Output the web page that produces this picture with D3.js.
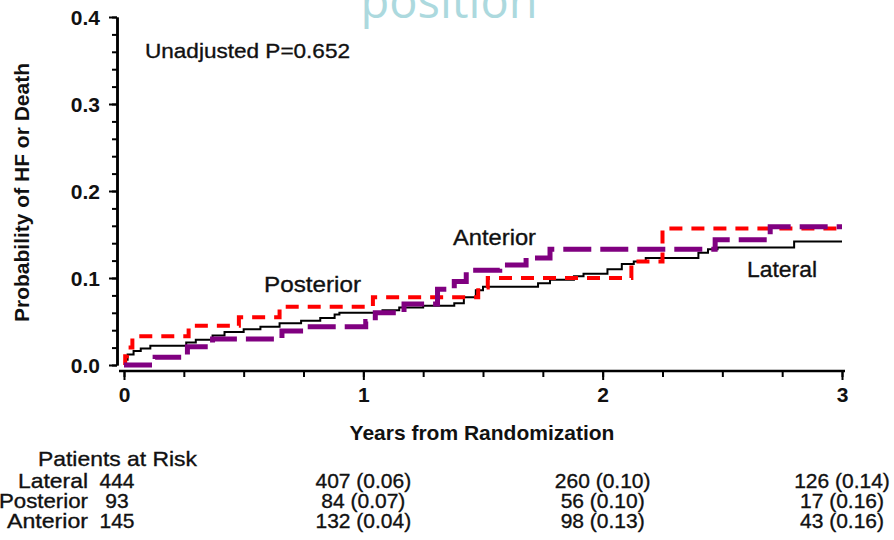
<!DOCTYPE html>
<html>
<head>
<meta charset="utf-8">
<script src="https://cdn.jsdelivr.net/npm/d3@7"></script>
<style>
  body { margin: 0; background: #fff; }
  svg { display: block; }
  text { font-family: "Liberation Sans", Arial, Helvetica, sans-serif; fill: #111; }
  text.reg { stroke: #111; stroke-width: 0.35px; }
</style>
</head>
<body>
<svg id="chart" width="894" height="540"></svg>
<script>
// Cumulative probability of HF or death by infarct position (step curves)
const lateralTime = [0, 0.005, 0.015, 0.04, 0.07, 0.11, 0.26, 0.30, 0.37, 0.42, 0.50, 0.57, 0.65, 0.74, 0.82, 0.88, 0.90, 1.08, 1.15, 1.25, 1.38, 1.42, 1.47, 1.50, 1.73, 1.78, 1.88, 1.92, 2.02, 2.08, 2.13, 2.18, 2.40, 2.44, 2.48, 2.80, 3.0];
const lateralProb = [0, 0.006, 0.012, 0.016, 0.019, 0.022, 0.026, 0.029, 0.034, 0.038, 0.041, 0.044, 0.048, 0.051, 0.054, 0.058, 0.060, 0.063, 0.066, 0.068, 0.071, 0.078, 0.086, 0.090, 0.094, 0.098, 0.102, 0.105, 0.110, 0.116, 0.119, 0.123, 0.129, 0.133, 0.135, 0.142, 0.142];

const posteriorTime = [0, 0.005, 0.012, 0.035, 0.27, 0.48, 0.65, 1.04, 1.48, 1.52, 2.12, 2.25, 3.0];
const posteriorProb = [0, 0.010, 0.020, 0.033, 0.045, 0.055, 0.067, 0.078, 0.089, 0.100, 0.119, 0.157, 0.157];

const anteriorTime = [0, 0.13, 0.265, 0.37, 0.66, 0.75, 1.01, 1.05, 1.17, 1.31, 1.38, 1.43, 1.57, 1.68, 1.78, 2.47, 2.70, 3.0];
const anteriorProb = [0, 0.009, 0.021, 0.030, 0.039, 0.044, 0.050, 0.060, 0.070, 0.087, 0.096, 0.109, 0.115, 0.123, 0.133, 0.144, 0.159, 0.159];

// Axis ticks
const yMajorTicks = [0, 0.1, 0.2, 0.3, 0.4];
const yMinorTicks = d3.range(0, 21).map(i => i * 0.02);
const xMajorTicks = [0, 1, 2, 3];
const xMinorTicks = d3.range(0, 13).map(i => i * 0.25);

// Patients at risk table
const riskTimes = [0, 1, 2, 3];
const riskGroups = ["Lateral", "Posterior", "Anterior"];
const lateralAtRisk = [444, 407, 260, 126];
const lateralRiskProb = [null, 0.06, 0.10, 0.14];
const posteriorAtRisk = [93, 84, 56, 17];
const posteriorRiskProb = [null, 0.07, 0.10, 0.16];
const anteriorAtRisk = [145, 132, 98, 43];
const anteriorRiskProb = [null, 0.04, 0.13, 0.16];

const pValueText = "Unadjusted P=0.652";
const headerText = "position";

const svg = d3.select("#chart");

const x = d3.scaleLinear().domain([0, 3]).range([124, 842]);
const y = d3.scaleLinear().domain([0, 0.4]).range([365, 17]);

// Faint heading text at the very top
svg.append("text")
  .attr("x", 449).attr("y", 18)
  .attr("text-anchor", "middle")
  .style("font-family", "'Open Sans', sans-serif")
  .style("font-size", "47px")
  .style("fill", "#acd9de")
  .text(headerText);

// Y axis
const yAxisX = 117;
const gyMinor = svg.append("g").attr("transform", `translate(${yAxisX},0)`)
  .call(d3.axisLeft(y).tickValues(yMinorTicks).tickSize(5).tickSizeOuter(0).tickFormat(""));
const gy = svg.append("g").attr("transform", `translate(${yAxisX},0)`)
  .call(d3.axisLeft(y).tickValues(yMajorTicks).tickSize(8).tickSizeOuter(0).tickPadding(9).tickFormat(d3.format(".1f")));
[gyMinor, gy].forEach(g => {
  g.select(".domain").attr("stroke", "#000").attr("stroke-width", 2.5);
  g.selectAll(".tick line").attr("stroke", "#000").attr("stroke-width", 2);
});
gy.selectAll(".tick text")
  .style("font-family", "'Liberation Sans', Arial, sans-serif")
  .style("font-size", "21px").style("font-weight", "bold").attr("fill", "#111")
  .attr("dy", "0.36em");

// X axis
const xAxisY = 371;
const gxMinor = svg.append("g").attr("transform", `translate(0,${xAxisY})`)
  .call(d3.axisBottom(x).tickValues(xMinorTicks).tickSize(6).tickSizeOuter(0).tickFormat(""));
const gx = svg.append("g").attr("transform", `translate(0,${xAxisY})`)
  .call(d3.axisBottom(x).tickValues(xMajorTicks).tickSize(9).tickSizeOuter(0).tickPadding(7).tickFormat(d3.format("d")));
[gxMinor, gx].forEach(g => {
  g.select(".domain").remove();
  g.selectAll(".tick line").attr("stroke", "#000").attr("stroke-width", 2);
});
svg.append("line")
  .attr("x1", x(0) - 5).attr("x2", x(3) + 3)
  .attr("y1", xAxisY).attr("y2", xAxisY)
  .attr("stroke", "#000").attr("stroke-width", 2.5);
gx.selectAll(".tick text")
  .style("font-family", "'Liberation Sans', Arial, sans-serif")
  .style("font-size", "21px").style("font-weight", "bold").attr("fill", "#111");

// Axis titles
svg.append("text")
  .attr("transform", `translate(29,${(60 + 325) / 2}) rotate(-90)`)
  .attr("text-anchor", "middle")
  .style("font-size", "21px").style("font-weight", "bold")
  .text("Probability of HF or Death");

svg.append("text")
  .attr("x", 482).attr("y", 440)
  .attr("text-anchor", "middle")
  .style("font-size", "21px").style("font-weight", "bold")
  .text("Years from Randomization");

// Survival-style step curves
const stepLine = d3.line()
  .x(d => x(d[0]))
  .y(d => y(d[1]))
  .curve(d3.curveStepAfter);

const series = [
  { name: "Lateral", time: lateralTime, prob: lateralProb, color: "#000000", width: 2, dash: null },
  { name: "Posterior", time: posteriorTime, prob: posteriorProb, color: "#ff0000", width: 4, dash: "13,9" },
  { name: "Anterior", time: anteriorTime, prob: anteriorProb, color: "#800080", width: 5, dash: "28,9" }
];

svg.append("g").selectAll("path")
  .data(series)
  .join("path")
  .attr("d", s => stepLine(d3.zip(s.time, s.prob)))
  .attr("fill", "none")
  .attr("stroke", d => d.color)
  .attr("stroke-width", d => d.width)
  .attr("stroke-dasharray", d => d.dash);

// Text helper: regular weight, stretched to a set width
function label(txt, x0, yBase, width, size, anchor) {
  svg.append("text")
    .attr("class", "reg")
    .attr("x", x0).attr("y", yBase)
    .attr("text-anchor", anchor || "start")
    .attr("textLength", width)
    .attr("lengthAdjust", "spacingAndGlyphs")
    .style("font-size", size + "px")
    .text(txt);
}
label(pValueText, 145, 58, 205, 21);
label("Posterior", 264, 292, 97, 22);
label("Anterior", 453, 245, 83, 22);
label("Lateral", 747, 277, 70, 22);

// Patients at risk table
const fmt = d3.format(".2f");
label("Patients at Risk", 38, 466, 159, 21);

const rowData = [
  { n: lateralAtRisk, p: lateralRiskProb },
  { n: posteriorAtRisk, p: posteriorRiskProb },
  { n: anteriorAtRisk, p: anteriorRiskProb }
];
const rowBase = [488, 508, 528];
const rowLabelWidth = [70, 89, 81];

riskGroups.forEach((g, i) => {
  label(g, 88, rowBase[i], rowLabelWidth[i], 21, "end");
  riskTimes.forEach((t, j) => {
    const n = rowData[i].n[j];
    const p = rowData[i].p[j];
    svg.append("text")
      .attr("class", "reg")
      .attr("x", j === 0 ? x(t) - 7 : x(t))
      .attr("y", rowBase[i])
      .attr("text-anchor", "middle")
      .style("font-size", "21px")
      .text(p === null ? `${n}` : `${n} (${fmt(p)})`);
  });
});
</script>
</body>
</html>
